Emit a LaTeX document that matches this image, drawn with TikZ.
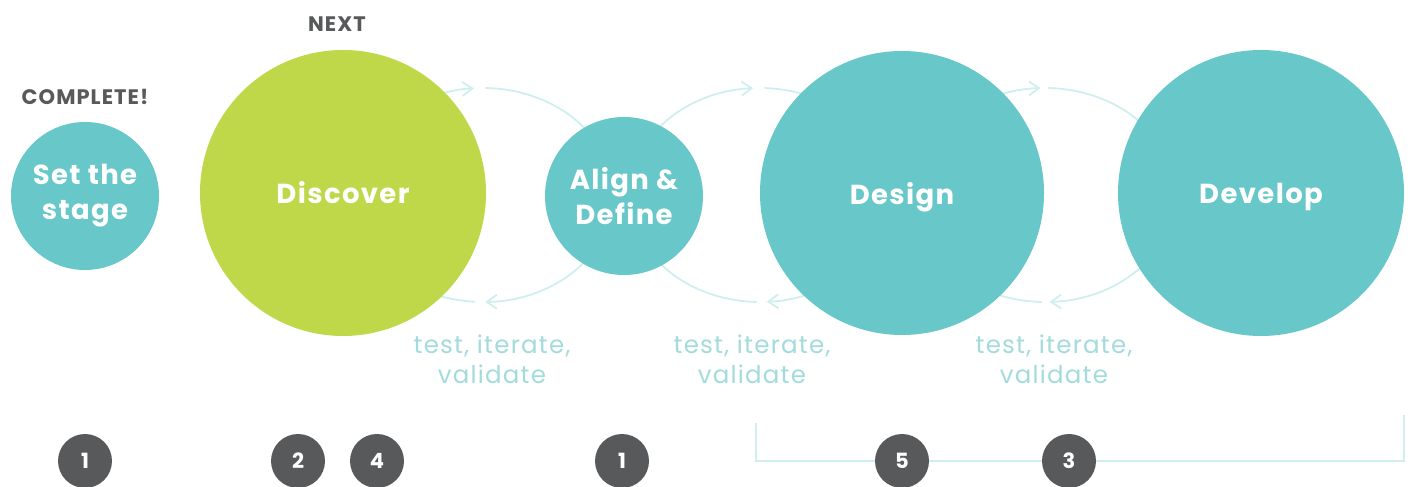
\documentclass[tikz,border=0pt]{standalone}
\usepackage{fontspec}
\setmainfont{Poppins}
\usetikzlibrary{arrows.meta}
\definecolor{cteal}{HTML}{67C7C9}
\definecolor{cgreen}{HTML}{BED849}
\definecolor{cgray}{HTML}{58595B}
\definecolor{carc}{HTML}{CFEEEE}
\definecolor{clabel}{HTML}{A3DBDC}
\begin{document}
\begin{tikzpicture}[x=1pt,y=1pt,
  phase/.style={circle, fill=cteal, text=white, inner sep=0pt, align=center,
    font=\bfseries\fontsize{27.5}{35}\selectfont\addfontfeatures{LetterSpace=5}},
  status/.style={text=cgray, inner sep=0pt,
    font=\bfseries\fontsize{21}{24}\selectfont\addfontfeatures{LetterSpace=5}},
  looplabel/.style={text=clabel, align=center, inner sep=0pt,
    font=\fontsize{24.5}{29.5}\selectfont\addfontfeatures{LetterSpace=5}},
  badge/.style={circle, fill=cgray, text=white, minimum size=54pt, inner sep=0pt,
    font=\bfseries\fontsize{21}{24}\selectfont},
  loopline/.style={carc, line width=1.8pt},
  looparrow/.style={loopline, -{Straight Barb[length=10pt,width=14pt]}},
  bracketline/.style={carc, line width=2pt}
]
\useasboundingbox (0,0) rectangle (1413,487);

% loop centres
\coordinate (e1) at (483,292);
\coordinate (e2) at (760,292);
\coordinate (e3) at (1045,292);

% group 1
\draw[looparrow] ([shift={(125:130pt and 107pt)}]e1) arc[start angle=125,end angle=94,x radius=130pt,y radius=107pt];
\draw[loopline] ([shift={(89:130pt and 107pt)}]e1) arc[start angle=89,end angle=30,x radius=130pt,y radius=107pt];
\draw[looparrow] ([shift={(-30:130pt and 107pt)}]e1) arc[start angle=-30,end angle=-89,x radius=130pt,y radius=107pt];
\draw[loopline] ([shift={(-93.5:130pt and 107pt)}]e1) arc[start angle=-93.5,end angle=-125,x radius=130pt,y radius=107pt];
% group 2
\draw[looparrow] ([shift={(150:130pt and 107pt)}]e2) arc[start angle=150,end angle=93,x radius=130pt,y radius=107pt];
\draw[loopline] ([shift={(88:130pt and 107pt)}]e2) arc[start angle=88,end angle=50,x radius=130pt,y radius=107pt];
\draw[looparrow] ([shift={(-50:130pt and 107pt)}]e2) arc[start angle=-50,end angle=-87,x radius=130pt,y radius=107pt];
\draw[loopline] ([shift={(-91.5:130pt and 107pt)}]e2) arc[start angle=-91.5,end angle=-150,x radius=130pt,y radius=107pt];
% group 3
\draw[looparrow] ([shift={(130:130pt and 107pt)}]e3) arc[start angle=130,end angle=92,x radius=130pt,y radius=107pt];
\draw[loopline] ([shift={(88.5:130pt and 107pt)}]e3) arc[start angle=88.5,end angle=30,x radius=130pt,y radius=107pt];
\draw[looparrow] ([shift={(-30:130pt and 107pt)}]e3) arc[start angle=-30,end angle=-88,x radius=130pt,y radius=107pt];
\draw[loopline] ([shift={(-91.5:130pt and 107pt)}]e3) arc[start angle=-91.5,end angle=-130,x radius=130pt,y radius=107pt];

% phases
\node[phase, minimum size=148pt] (stage) at (85,291) {Set the\\stage};
\node[phase, minimum size=286pt, fill=cgreen] (discover) at (343,294) {Discover};
\node[phase, minimum size=158pt] (align) at (624,291) {Align \&\\Define};
\node[phase, minimum size=284pt, text depth=0pt] (design) at (902,294) {Design};
\node[phase, minimum size=286pt, text depth=0pt] (develop) at (1261,294) {Develop};

% status labels
\node[status] (complete) at (85,390) {COMPLETE!};
\node[status] (next) at (337,462.5) {NEXT};

% loop labels
\node[looplabel] (t1) at (492,127.5) {test, iterate,\\validate};
\node[looplabel] (t2) at (752,127.5) {test, iterate,\\validate};
\node[looplabel] (t3) at (1054,127.5) {test, iterate,\\validate};

% bracket
\coordinate (bl) at (756,64);
\coordinate (br) at (1404,72);
\draw[bracketline] (bl) |- (br |- 0,26) -- (br);

% badges
\node[badge] (b1) at (85,26) {1};
\node[badge] (b2) at (298,26) {2};
\node[badge] (b3) at (377,26) {4};
\node[badge] (b4) at (622,26) {1};
\node[badge] (b5) at (902,26) {5};
\node[badge] (b6) at (1069,26) {3};
\end{tikzpicture}
\end{document}
